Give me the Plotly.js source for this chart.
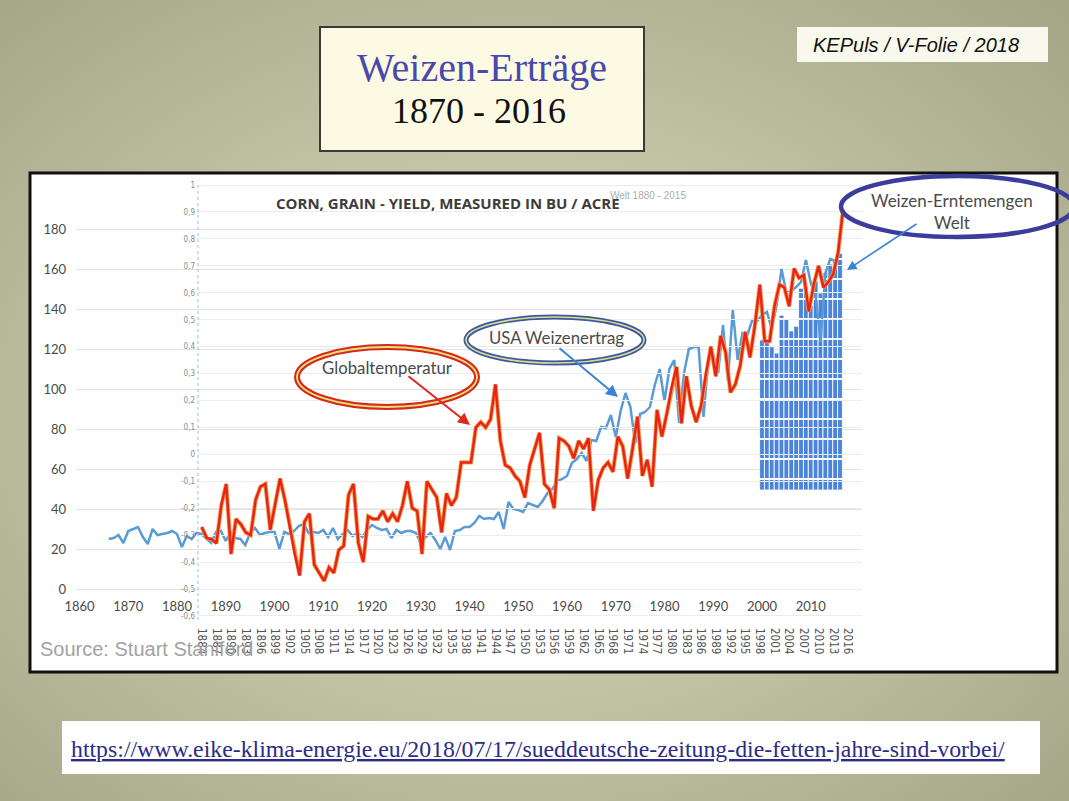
<!DOCTYPE html>
<html><head><meta charset="utf-8">
<script src="https://cdn.plot.ly/plotly-3.0.1.min.js"></script>
<style>
html,body{margin:0;padding:0;width:1069px;height:801px;overflow:hidden;
background: radial-gradient(ellipse 72% 72% at 48% 52%, #d3d3b6 0%, #c4c4a6 45%, #a5a587 100%);}
#chart{width:1069px;height:801px;}
</style></head><body><div id="chart"></div>
<script>
// ---------------- DATA ----------------
// USA yield (bu/acre), annual, 1866-2015
const usaStartYear = 1866;
const usaYield = [
 25,25.5,27,23,29,30,31,26,22.5,30,
 27,27.5,28,29,27.5,21,26.5,25,28,27.5,
 25,23,28.5,29,24,28.5,25.5,25,22,28,
 30.5,27,28,28.5,28.5,20,28.5,27.5,29,31.5,
 32.5,28,28.5,28,29.5,26,30.5,25,27.5,29.5,
 26.5,28,26,29.5,32,30.5,29.5,30,25.5,29.5,
 28,29,29,28,23,26,28,24.5,20,26,
 19.5,29,29.5,31,31,33,36.5,35,35.5,35,
 38.5,30,43.5,40,39.5,38.5,43,42,41,44,
 48,50,54,55,56.5,63,65,68,64,74.5,
 74,81,80.5,87,76,89,98,91,73,87.5,
 88.5,91,102,110,94,110,114.5,83,108,120,
 121,121,86,115,117,108,132,104,139.5,114.5,
 128,127,134.5,134,137,138.5,130,142,160,148,
 149,151,153.5,164.5,153,147,123.5,158,165,164
];
// Global temperature anomaly, annual, 1884-2015
const tempStartYear = 1884;
const globalTemp = [
 -0.27,-0.31,-0.315,-0.33,-0.19,-0.11,-0.37,-0.24,-0.26,-0.29,
 -0.30,-0.17,-0.12,-0.11,-0.28,-0.18,-0.09,-0.17,-0.27,-0.37,
 -0.45,-0.25,-0.22,-0.41,-0.44,-0.47,-0.42,-0.44,-0.355,-0.34,
 -0.15,-0.11,-0.33,-0.40,-0.23,-0.24,-0.24,-0.21,-0.25,-0.22,
 -0.25,-0.19,-0.10,-0.20,-0.21,-0.37,-0.10,-0.13,-0.16,-0.29,
 -0.145,-0.19,-0.16,-0.03,-0.03,-0.03,0.10,0.12,0.10,0.13,
 0.26,0.05,-0.04,-0.05,-0.08,-0.10,-0.16,-0.04,0.02,0.08,
 -0.11,-0.13,-0.20,0.06,0.05,0.03,-0.015,0.05,0.02,0.06,
 -0.21,-0.095,-0.05,-0.03,-0.065,0.066,0.03,-0.09,0.02,0.14,
 -0.08,-0.02,-0.12,0.165,0.066,0.15,0.25,0.325,0.115,0.29,
 0.18,0.12,0.18,0.30,0.40,0.29,0.44,0.38,0.23,0.26,
 0.33,0.455,0.36,0.48,0.63,0.42,0.42,0.55,0.63,0.62,
 0.55,0.69,0.655,0.665,0.53,0.63,0.70,0.62,0.64,0.67,
 0.75,0.91
];
// World wheat harvest (Mt), 2000-2016
const wheatYears = [2000,2001,2002,2003,2004,2005,2006,2007,2008,2009,2010,2011,2012,2013,2014,2015,2016];
const wheatHarvest = [585,589,572,560,632,626,602,611,683,687,651,697,674,713,729,735,749];
const wheatAxisMin = 300;

// tick labels
const decadeTicks = [1860,1870,1880,1890,1900,1910,1920,1930,1940,1950,1960,1970,1980,1990,2000,2010];
const yieldTicks = [0,20,40,60,80,100,120,140,160,180];
const tempTicks = [-0.6,-0.5,-0.4,-0.3,-0.2,-0.1,0,0.1,0.2,0.3,0.4,0.5,0.6,0.7,0.8,0.9,1];
const tempTickText = ['-0,6','-0,5','-0,4','-0,3','-0,2','-0,1','0','0,1','0,2','0,3','0,4','0,5','0,6','0,7','0,8','0,9','1'];
const tempYearTicks = [];
for (let y = 1884; y <= 2016; y += 3) tempYearTicks.push(y);

// ---------------- BUILD ----------------
const W = 1069, H = 801;
const px = x => x / W, py = y => 1 - y / H;
const usaYears = usaYield.map((_, i) => usaStartYear + i);
const tempYears = globalTemp.map((_, i) => tempStartYear + i);

const traces = [
  {type:'bar', x:wheatYears, y:wheatHarvest.map(v => v - wheatAxisMin), base:wheatAxisMin,
   xaxis:'x', yaxis:'y', width:0.98,
   marker:{color:'#4a84dc', line:{color:'#ffffff', width:0.8},
     pattern:{shape:'-', fillmode:'overlay', fgcolor:'#ffffff', fgopacity:1, size:20, solidity:0.1}},
   hoverinfo:'skip'},
  {type:'scatter', mode:'lines', x:usaYears, y:usaYield, xaxis:'x', yaxis:'y3',
   line:{color:'#5b9bd5', width:2.5}, hoverinfo:'skip'},
  {type:'scatter', mode:'lines', x:tempYears, y:globalTemp, xaxis:'x2', yaxis:'y2',
   line:{color:'#f4a048', width:4.2}, hoverinfo:'skip'},
  {type:'scatter', mode:'lines', x:tempYears, y:globalTemp, xaxis:'x2', yaxis:'y2',
   line:{color:'#e8241a', width:2.5}, hoverinfo:'skip'}
];

const tickFont = {family:'Lato, Liberation Sans, sans-serif', size:13, color:'#4a4a4a'};
const txt = (x, y, text, font, extra) => Object.assign({xref:'paper', yref:'paper', x:px(x), y:py(y),
  xanchor:'center', yanchor:'middle', text:text, showarrow:false, font:font}, extra || {});
const arrow = (hx, hy, tx, ty, color, w) => ({xref:'paper', yref:'paper', x:px(hx), y:py(hy),
  ax:tx - hx, ay:ty - hy, text:'', showarrow:true, arrowhead:2, arrowsize:1.2, arrowwidth:w, arrowcolor:color});
const calib = 'Lato, Open Sans, sans-serif';

const layout = {
  width:W, height:H, margin:{l:0,r:0,t:0,b:0},
  paper_bgcolor:'rgba(0,0,0,0)', plot_bgcolor:'rgba(0,0,0,0)',
  showlegend:false, bargap:0,
  xaxis:{domain:[px(76),px(862)], range:[1859.28,2020.51], tickvals:decadeTicks, ticks:'',
    showgrid:false, zeroline:false, showline:false, anchor:'free', position:py(597), tickfont:tickFont},
  yaxis:{domain:[py(620),py(169)], range:[53.2,909.5], visible:false, showgrid:false},
  yaxis3:{overlaying:'y', anchor:'x', side:'left', range:[-15.5,210], tickvals:yieldTicks,
    gridcolor:'#e2e2e2', gridwidth:1, zeroline:false, showline:false, ticks:'',
    ticklabelstandoff:9, tickfont:tickFont},
  xaxis2:{domain:[px(198),px(862)], range:[1883.24,2018.87], anchor:'y2', tickvals:tempYearTicks,
    tickangle:90, showgrid:false, zeroline:false, showline:false, ticks:'', ticklabelstandoff:7,
    tickfont:{family:'DejaVu Sans Condensed, Liberation Sans Narrow, sans-serif', size:11.5, color:'#555'}},
  yaxis2:{domain:[py(620),py(169)], range:[-0.6151,1.0596], anchor:'x2', tickvals:tempTicks,
    ticktext:tempTickText, gridcolor:'#ececec', gridwidth:1, zeroline:false, showline:false, ticks:'',
    ticklabelstandoff:2, tickfont:{family:'Liberation Sans Narrow, DejaVu Sans Condensed, sans-serif', size:8, color:'#8a8a8a'}},
  shapes:[
    {type:'rect', xref:'paper', yref:'paper', x0:px(30), x1:px(1057), y0:py(672), y1:py(173),
     fillcolor:'#ffffff', line:{color:'#111111', width:3}, layer:'below'},
    {type:'rect', xref:'paper', yref:'paper', x0:px(320), x1:px(644), y0:py(151), y1:py(27),
     fillcolor:'#fcfae2', line:{color:'#3a3a3a', width:2}, layer:'below'},
    {type:'rect', xref:'paper', yref:'paper', x0:px(797), x1:px(1048), y0:py(62), y1:py(27),
     fillcolor:'#f9f8ec', line:{width:0}, layer:'below'},
    {type:'rect', xref:'paper', yref:'paper', x0:px(62), x1:px(1040), y0:py(774), y1:py(721),
     fillcolor:'#ffffff', line:{width:0}, layer:'below'},
    {type:'line', xref:'paper', yref:'paper', x0:px(198), x1:px(198), y0:py(620), y1:py(183),
     line:{color:'#9dbbe0', width:1, dash:'dot'}},
    {type:'circle', xref:'paper', yref:'paper', x0:px(297), x1:px(477), y0:py(407), y1:py(347),
     line:{color:'#d8281c', width:6}},
    {type:'circle', xref:'paper', yref:'paper', x0:px(297), x1:px(477), y0:py(407), y1:py(347),
     line:{color:'#e6e27a', width:1.8}},
    {type:'circle', xref:'paper', yref:'paper', x0:px(466), x1:px(644), y0:py(363), y1:py(317),
     line:{color:'#3d55a6', width:5}},
    {type:'circle', xref:'paper', yref:'paper', x0:px(466), x1:px(644), y0:py(363), y1:py(317),
     line:{color:'#d6e07c', width:1.6}},
    {type:'circle', xref:'paper', yref:'paper', x0:px(841), x1:px(1074), y0:py(237), y1:py(176),
     line:{color:'#3a3d9c', width:4.5}}
  ],
  annotations:[
    txt(482, 68, 'Weizen-Erträge', {family:'Liberation Serif, serif', size:40, color:'#4848ae'}),
    txt(479, 111, '1870 - 2016', {family:'Liberation Serif, serif', size:36, color:'#111111'}),
    txt(916, 45, '<i>KEPuls / V-Folie / 2018</i>', {family:'Liberation Sans, Arial, sans-serif', size:20, color:'#111111'}),
    txt(538, 749, '<span style="text-decoration:underline">https://www.eike-klima-energie.eu/2018/07/17/sueddeutsche-zeitung-die-fetten-jahre-sind-vorbei/</span>',
        {family:'Liberation Serif, serif', size:23.8, color:'#2c2c88'}),
    txt(688, 196, 'Welt 1880 - 2015', {family:'Liberation Sans Narrow, Liberation Sans, sans-serif', size:10, color:'rgba(110,110,110,0.6)'}, {xanchor:'right'}),
    txt(448, 203, '<b>CORN, GRAIN - YIELD, MEASURED IN BU / ACRE</b>', {family:'Open Sans, sans-serif', size:15, color:'#3c3c3c'}),
    txt(38, 649, 'Source: Stuart Staniford', {family:'Liberation Sans, sans-serif', size:20, color:'#a2a2a2'}, {xanchor:'left'}),
    txt(387, 367, 'Globaltemperatur', {family:calib, size:16.8, color:'#4a4a4a'}),
    txt(556, 338, 'USA Weizenertrag', {family:calib, size:16.8, color:'#4a4a4a'}),
    txt(952, 212, 'Weizen-Erntemengen<br>Welt', {family:calib, size:17, color:'#4a4a4a'}),
    arrow(470, 425, 407, 375, '#e0281e', 2),
    arrow(618, 397, 558, 347, '#3c82d6', 2),
    arrow(847, 270, 918, 223, '#3c82d6', 1.6)
  ]
};
Plotly.newPlot('chart', traces, layout, {displayModeBar:false, staticPlot:true});
</script>
</body></html>
